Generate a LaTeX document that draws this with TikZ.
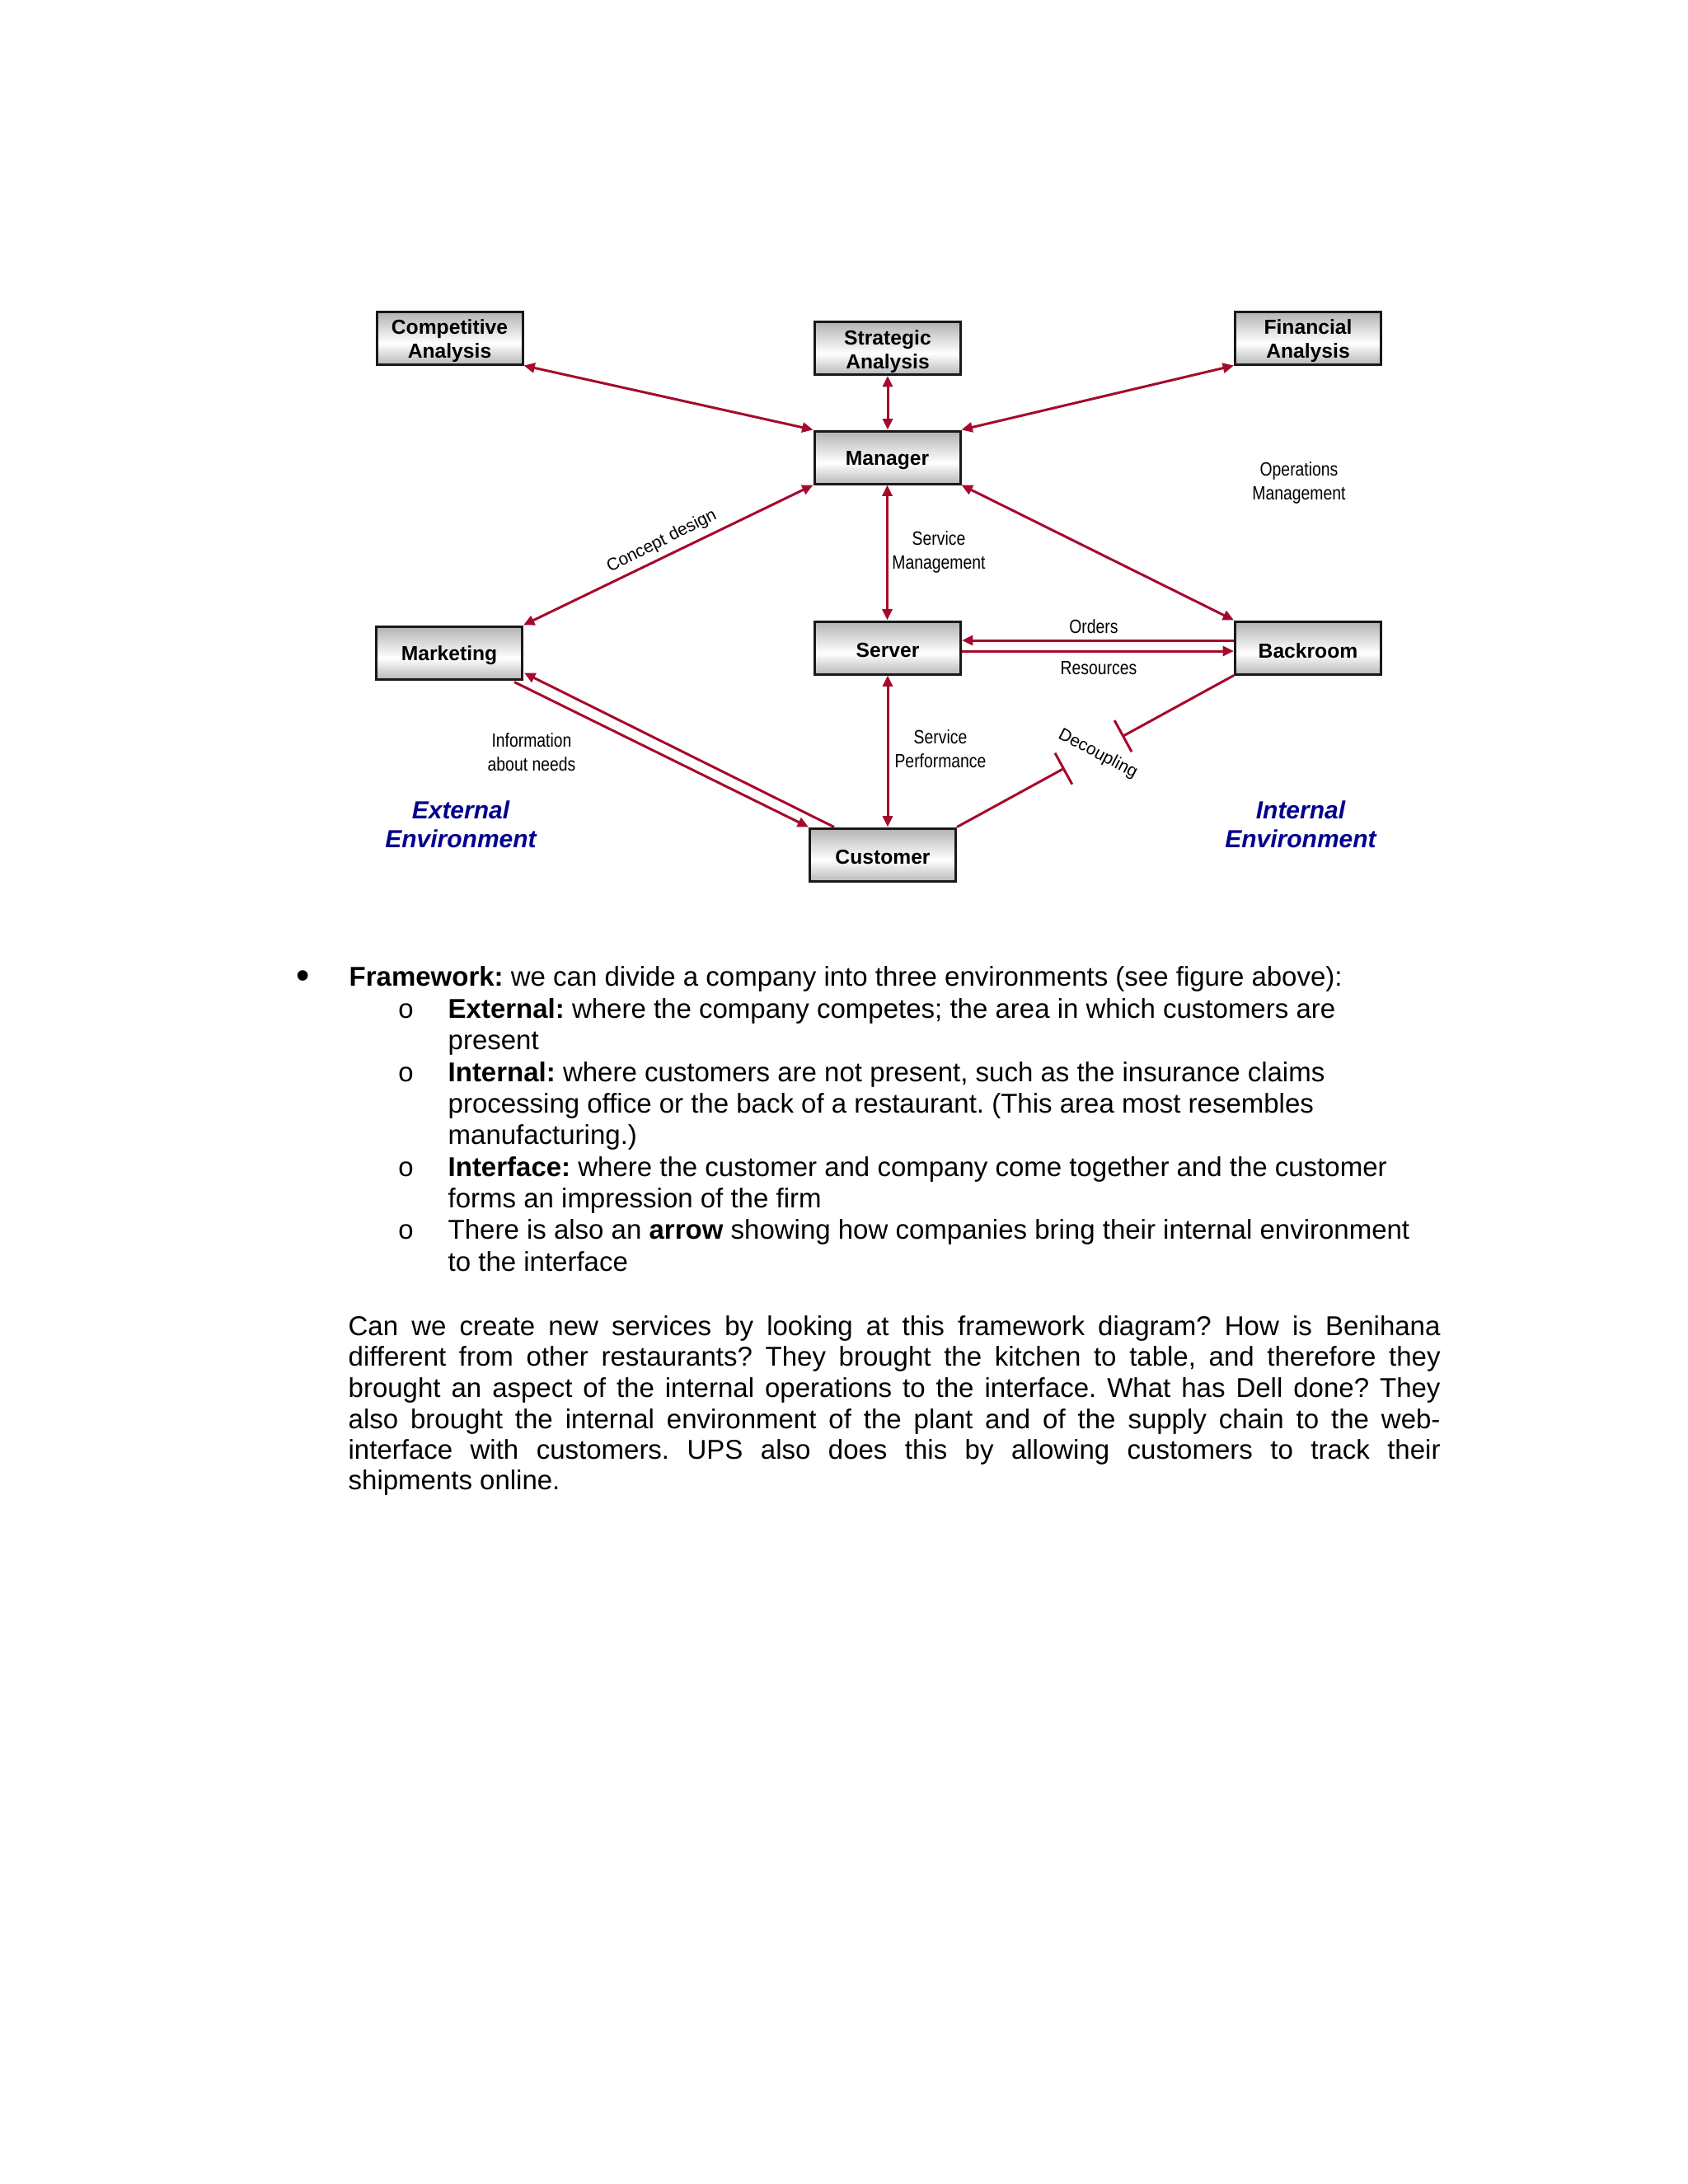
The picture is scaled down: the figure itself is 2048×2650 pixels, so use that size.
\documentclass[tikz,border=0pt]{standalone}
\usepackage{fontspec}
\setmainfont{Liberation Sans}
\newfontfamily\narrowfont[FakeStretch=0.83]{Liberation Sans}
\newfontfamily\bulletmono{Liberation Mono}
\usetikzlibrary{arrows.meta,calc}
\definecolor{arrowred}{HTML}{A50A2D}
\definecolor{envblue}{HTML}{00008F}
\pgfdeclareverticalshading{boxshade}{100bp}{color(0bp)=(black!62); color(45bp)=(white); color(100bp)=(black!55)}
\newcommand{\twoline}[2]{\raisebox{-1.3pt}[\height][\depth]{\begin{tabular}{@{}c@{}}#1\\#2\end{tabular}}}
\newcommand{\oneline}[1]{\raisebox{-1pt}[\height][\depth]{#1}}
\begin{document}
\frenchspacing
\begin{tikzpicture}[x=0.3pt,y=-0.3pt,
  box/.style={draw=black!90, line width=0.9pt, shade, shading=boxshade, minimum width=53.1pt, minimum height=19.2pt, inner sep=0pt, align=center, font=\fontsize{7.4}{8.7}\selectfont\bfseries},
  lbl/.style={align=center, inner sep=0pt, font=\narrowfont\fontsize{7}{8.7}\selectfont},
  rlbl/.style={inner sep=0pt, font=\fontsize{6.3}{7.5}\selectfont},
  env/.style={align=center, inner sep=0pt, text=envblue, font=\fontsize{9}{10.5}\selectfont\bfseries\itshape},
  conn/.style={draw=arrowred, line width=0.9pt},
  bi/.style={conn, {Triangle[length=4pt,width=3.6pt]}-{Triangle[length=4pt,width=3.6pt]}},
  uni/.style={conn, -{Triangle[length=4pt,width=3.6pt]}},
  barend/.style={conn, -{Bar[width=13pt,line width=0.9pt]}},
  body/.style={anchor=base west, inner sep=0pt, font=\fontsize{9.9}{11.5}\selectfont},
]
\useasboundingbox (0,0) rectangle (2048,2650);
\fill[white] (0,0) rectangle (2048,2650);

% boxes
\node[box] (comp) at (545.5,410) {\twoline{Competitive}{Analysis}};
\node[box] (strat) at (1077,422.5) {\twoline{Strategic}{Analysis}};
\node[box] (fin) at (1587,410) {\twoline{Financial}{Analysis}};
\node[box] (mgr) at (1076.5,555) {\oneline{Manager}};
\node[box] (mkt) at (545,792) {\oneline{Marketing}};
\node[box] (srv) at (1077,786) {\oneline{Server}};
\node[box] (back) at (1587,786) {\oneline{Backroom}};
\node[box] (cust) at (1071,1037) {\oneline{Customer}};

% connectors
\draw[bi] (comp.south east) -- (mgr.north west);
\draw[bi] (strat.south) -- (strat.south |- mgr.north);
\draw[bi] (fin.south west) -- (mgr.north east);
\draw[bi] (mgr.south west) -- (mkt.north east);
\draw[bi] (mgr.south) -- (mgr.south |- srv.north);
\draw[bi] (mgr.south east) -- (back.north west);
\draw[uni] ([yshift=2.7pt]back.west) -- ([yshift=2.7pt]srv.east);
\draw[uni] ([yshift=-1.2pt]srv.east) -- ([yshift=-1.2pt]back.west);
\draw[bi] (srv.south) -- (srv.south |- cust.north);
\draw[uni] ($(mkt.south east)+(-11,2)$) -- (cust.north west);
\draw[uni] ($(cust.north west)+(31,0)$) -- ($(mkt.south east)+(1,-9)$);
\coordinate (dc1) at ($(cust.north east)!0.389!(back.south west)$);
\coordinate (dc2) at ($(cust.north east)!0.596!(back.south west)$);
\draw[barend] (cust.north east) -- (dc1);
\draw[barend] (back.south west) -- (dc2);

% labels
\node[lbl] (smgmt) at (1139,670) {Service\\Management};
\node[lbl] (opm) at (1576,586) {Operations\\Management};
\node[lbl] (ord) at (1327,760) {Orders};
\node[lbl] (res) at (1333,811) {Resources};
\node[lbl] (sperf) at (1141,908.5) {Service\\Performance};
\node[lbl] (info) at (645,912.5) {Information\\about needs};
\node[rlbl, rotate=26.8] (cd) at (803,657) {Concept design};
\node[rlbl, rotate=-27.5] (dec) at (1332,915) {Decoupling};
\node[env] (ext) at (559,1000.5) {External\\Environment};
\node[env] (intl) at (1578,1000.5) {Internal\\Environment};

% bullet list
\node[body, font=\fontsize{14}{14}\selectfont] (bul0) at (359,1199) {•};
\node[body] (l1) at (423,1196.7) {\textbf{Framework:} we can divide a company into three environments (see figure above):};
\node[body] (bul1) at (482,1235) {\bulletmono o};
\node[body] (l2) at (543,1235) {\textbf{External:} where the company competes; the area in which customers are};
\node[body] (l3) at (543,1273) {present};
\node[body] (bul2) at (482,1312) {\bulletmono o};
\node[body] (l4) at (543,1312) {\textbf{Internal:} where customers are not present, such as the insurance claims};
\node[body] (l5) at (543,1350) {processing office or the back of a restaurant. (This area most resembles};
\node[body] (l6) at (543,1388) {manufacturing.)};
\node[body] (bul3) at (482,1427) {\bulletmono o};
\node[body] (l7) at (543,1427) {\textbf{Interface:} where the customer and company come together and the customer};
\node[body] (l8) at (543,1465) {forms an impression of the firm};
\node[body] (bul4) at (482,1503) {\bulletmono o};
\node[body] (l9) at (543,1503) {There is also an \textbf{arrow} showing how companies bring their internal environment};
\node[body] (l10) at (543,1542) {to the interface};

% paragraph
\node[body] (p1) at (422,1620) {\makebox[397.5pt][s]{Can we create new services by looking at this framework diagram? How is Benihana}};
\node[body] (p2) at (422,1657.5) {\makebox[397.5pt][s]{different from other restaurants? They brought the kitchen to table, and therefore they}};
\node[body] (p3) at (422,1695) {\makebox[397.5pt][s]{brought an aspect of the internal operations to the interface. What has Dell done? They}};
\node[body] (p4) at (422,1733) {\makebox[397.5pt][s]{also brought the internal environment of the plant and of the supply chain to the web-}};
\node[body] (p5) at (422,1770) {\makebox[397.5pt][s]{interface with customers. UPS also does this by allowing customers to track their}};
\node[body] (p6) at (422,1807) {shipments online.};
\end{tikzpicture}
\end{document}
